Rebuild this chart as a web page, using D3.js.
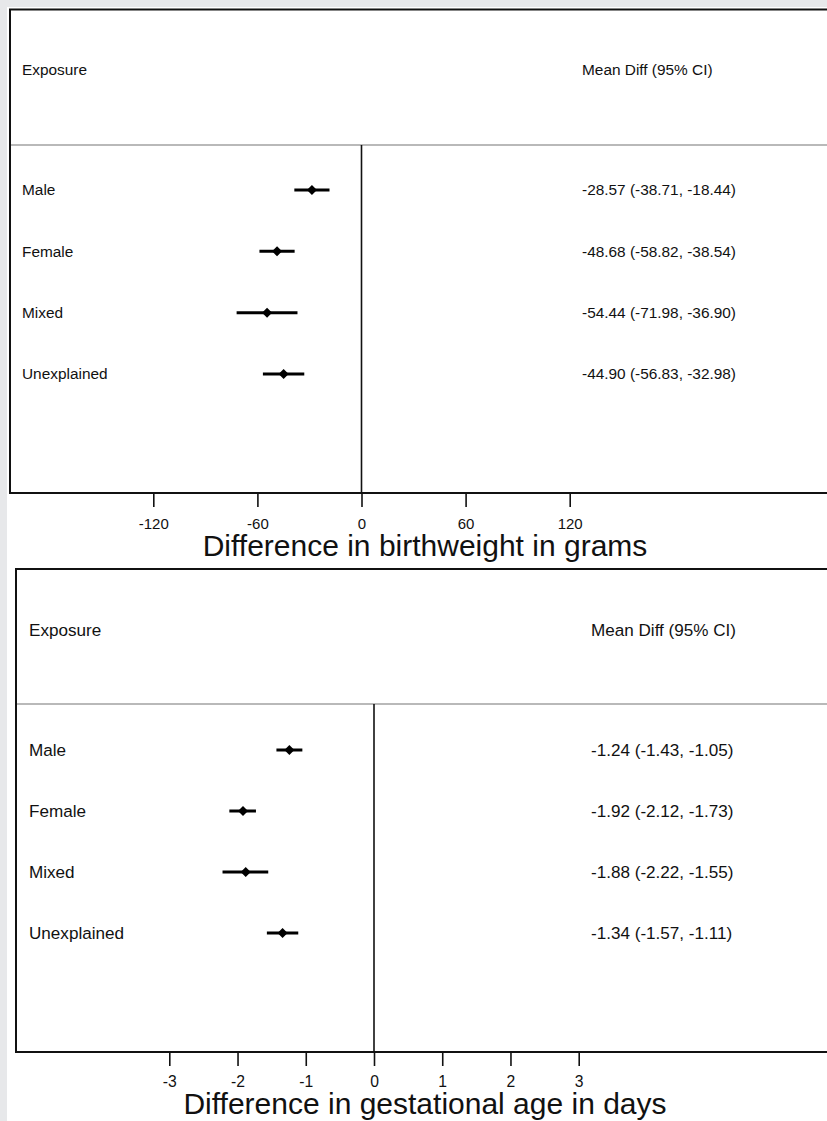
<!DOCTYPE html>
<html>
<head>
<meta charset="utf-8">
<script src="https://cdn.jsdelivr.net/npm/d3@7"></script>
<style>
  html, body { margin: 0; padding: 0; background: #e7e8ea; }
  svg { display: block; }
  text { font-family: "Liberation Sans", Arial, Helvetica, sans-serif; fill: #111; }
</style>
</head>
<body>
<svg id="chart" width="827" height="1121"></svg>
<script>
// Exposure groups (rows of both forest plots)
const exposures = ["Male", "Female", "Mixed", "Unexplained"];

// Birthweight: mean difference in grams with 95% CI
const bwMean = [-28.57, -48.68, -54.44, -44.90];
const bwLow  = [-38.71, -58.82, -71.98, -56.83];
const bwHigh = [-18.44, -38.54, -36.90, -32.98];
const bwTicks = [-120, -60, 0, 60, 120];

// Gestational age: mean difference in days with 95% CI
const gaMean = [-1.24, -1.92, -1.88, -1.34];
const gaLow  = [-1.43, -2.12, -2.22, -1.57];
const gaHigh = [-1.05, -1.73, -1.55, -1.11];
const gaTicks = [-3, -2, -1, 0, 1, 2, 3];

const svg = d3.select("#chart");

// white page area with thin grey margin on the top and left
svg.append("rect").attr("x", 7).attr("y", 7).attr("width", 900).attr("height", 1200).attr("fill", "#fff");

const fmt = v => v.toFixed(2);

function forest(cfg) {
  const g = svg.append("g");
  const x = d3.scaleLinear().domain(cfg.domain).range(cfg.range);
  const y = d3.scalePoint().domain(exposures).range(cfg.rows);

  // panel frame (runs off the right edge)
  g.append("path")
    .attr("d", `M${900},${cfg.top}H${cfg.left}V${cfg.bottom}H900`)
    .attr("fill", "none").attr("stroke", "#111").attr("stroke-width", 2);

  // header separator
  g.append("line")
    .attr("x1", cfg.left + 1).attr("x2", 900)
    .attr("y1", cfg.sep).attr("y2", cfg.sep)
    .attr("stroke", "#b9b9b9").attr("stroke-width", 2);

  // headers
  g.append("text").attr("x", cfg.labelX).attr("y", cfg.headY).attr("dy", "0.35em")
    .attr("font-size", cfg.font).text("Exposure");
  g.append("text").attr("x", cfg.valueX).attr("y", cfg.headY).attr("dy", "0.35em")
    .attr("font-size", cfg.font).text("Mean Diff (95% CI)");

  // null line
  g.append("line")
    .attr("x1", x(0)).attr("x2", x(0))
    .attr("y1", cfg.sep).attr("y2", cfg.bottom)
    .attr("stroke", "#111").attr("stroke-width", 1.6);

  const rows = exposures.map((e, i) => ({ e, m: cfg.mean[i], lo: cfg.low[i], hi: cfg.high[i] }));

  // row labels and estimate text
  g.selectAll(".lab").data(rows).join("text")
    .attr("x", cfg.labelX).attr("y", d => y(d.e)).attr("dy", "0.35em")
    .attr("font-size", cfg.font).text(d => d.e);
  g.selectAll(".val").data(rows).join("text")
    .attr("x", cfg.valueX).attr("y", d => y(d.e)).attr("dy", "0.35em")
    .attr("font-size", cfg.font)
    .text(d => `${fmt(d.m)} (${fmt(d.lo)}, ${fmt(d.hi)})`);

  // confidence intervals
  g.selectAll(".ci").data(rows).join("line")
    .attr("x1", d => x(d.lo)).attr("x2", d => x(d.hi))
    .attr("y1", d => y(d.e)).attr("y2", d => y(d.e))
    .attr("stroke", "#000").attr("stroke-width", 3);

  // point estimates (diamonds)
  g.selectAll(".pt").data(rows).join("path")
    .attr("d", d3.symbol(d3.symbolSquare, cfg.marker)())
    .attr("transform", d => `translate(${x(d.m)},${y(d.e)}) rotate(45)`)
    .attr("fill", "#000");

  // x axis
  const axis = g.append("g").attr("transform", `translate(0,${cfg.bottom})`)
    .call(d3.axisBottom(x).tickValues(cfg.ticks).tickSize(cfg.tickLen).tickPadding(cfg.tickPad).tickFormat(d3.format("")));
  axis.select(".domain").remove();
  axis.selectAll("line").attr("stroke", "#111").attr("stroke-width", 1.6);
  axis.selectAll("text").attr("font-size", cfg.tickFont).attr("font-family", null).attr("fill", "#111")
    .text(d => String(d).replace("\u2212", "-"));

  g.append("text").attr("x", cfg.titleX).attr("y", cfg.titleY)
    .attr("text-anchor", "middle").attr("font-size", 30).text(cfg.title);
}

forest({
  mean: bwMean, low: bwLow, high: bwHigh, ticks: bwTicks,
  domain: [-120, 120], range: [153.3, 569.7],
  left: 10, top: 9.5, bottom: 493, sep: 145,
  rows: [190, 374], headY: 70, labelX: 22, valueX: 582, font: 15.4,
  marker: 50, tickLen: 14, tickPad: 11, tickFont: 15,
  title: "Difference in birthweight in grams", titleX: 425, titleY: 556
});

forest({
  mean: gaMean, low: gaLow, high: gaHigh, ticks: gaTicks,
  domain: [-3, 3], range: [169.3, 578.7],
  left: 16, top: 569, bottom: 1052, sep: 704,
  rows: [750, 933], headY: 630, labelX: 29, valueX: 591, font: 17.1,
  marker: 50, tickLen: 14, tickPad: 10, tickFont: 15.7,
  title: "Difference in gestational age in days", titleX: 425, titleY: 1114
});
</script>
</body>
</html>
